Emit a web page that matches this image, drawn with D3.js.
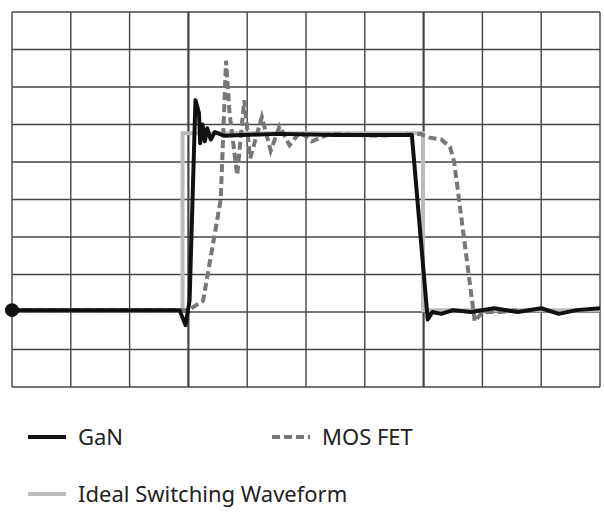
<!DOCTYPE html>
<html><head><meta charset="utf-8">
<script src="https://cdn.jsdelivr.net/npm/d3@7"></script>
<style>body{margin:0;background:#fff}</style>
</head><body><svg id="c"></svg>
<script>
// waveform points, [division, level] (0..10 grid units)
const ideal = [[0,2.05],[2.9,2.05],[2.9,6.77],[6.99,6.77],[6.99,2.05],[10,2.05]];
const gan = [[0,2.05],[2.85,2.05],[2.95,1.65],[3.02,2.3],[3.12,7.65],[3.18,7.3],[3.2,6.5],[3.24,7.0],[3.28,6.55],[3.32,6.9],[3.38,6.6],[3.45,6.8],[3.6,6.7],[4.5,6.75],[5.5,6.72],[6.8,6.72],[7.07,1.8],[7.15,2.0],[7.3,1.95],[7.5,2.05],[7.8,2.0],[8.2,2.1],[8.6,2.0],[9.0,2.1],[9.3,1.95],[9.6,2.05],[10,2.1]];
const mos = [[0,2.05],[3.0,2.05],[3.25,2.3],[3.55,5.0],[3.64,8.7],[3.7,7.3],[3.83,5.65],[3.95,7.65],[4.05,6.1],[4.25,7.2],[4.4,6.3],[4.55,6.95],[4.72,6.45],[4.9,6.8],[5.1,6.55],[5.4,6.75],[6.2,6.7],[6.94,6.75],[7.1,6.65],[7.3,6.6],[7.45,6.4],[7.52,6.0],[7.87,1.75],[8.0,2.0],[8.3,2.0],[8.6,2.05]];

const W = 604, H = 515;
const svg = d3.select('#c').attr('width', W).attr('height', H);
const x = d3.scaleLinear().domain([0,10]).range([12,600]);
const y = d3.scaleLinear().domain([0,10]).range([387,12]);

const grid = svg.append('g').attr('stroke','#444');
d3.range(0,11).forEach(i=>{
  grid.append('line').attr('x1',x(i)).attr('x2',x(i)).attr('y1',y(0)).attr('y2',y(10))
    .attr('stroke-width', i===3||i===7 ? 2.2 : 1.4);
  grid.append('line').attr('x1',x(0)).attr('x2',x(10)).attr('y1',y(i)).attr('y2',y(i)).attr('stroke-width',1.4);
});

const line = d3.line().x(d=>x(d[0])).y(d=>y(d[1]));
svg.append('path').attr('d',line(ideal)).attr('fill','none').attr('stroke','#bbb').attr('stroke-width',4);
svg.append('path').attr('d',line(mos)).attr('fill','none').attr('stroke','#777').attr('stroke-width',4).attr('stroke-dasharray','8,4');
svg.append('path').attr('d',line(gan)).attr('fill','none').attr('stroke','#111').attr('stroke-width',4).attr('stroke-linejoin','round');
svg.append('circle').attr('cx',x(0)).attr('cy',y(2.05)).attr('r',7).attr('fill','#111');

const legend = [
  {label:'GaN', x:28, y:437, color:'#111', dash:null},
  {label:'MOS FET', x:272, y:437, color:'#777', dash:'8,4'},
  {label:'Ideal Switching Waveform', x:28, y:494, color:'#bbb', dash:null}
];
legend.forEach(l=>{
  svg.append('line').attr('x1',l.x).attr('x2',l.x+38).attr('y1',l.y).attr('y2',l.y)
    .attr('stroke',l.color).attr('stroke-width',4).attr('stroke-dasharray',l.dash);
  svg.append('text').attr('x',l.x+50).attr('y',l.y+8).text(l.label)
    .attr('font-family','Noto Sans, Open Sans, sans-serif').attr('font-size',22).attr('fill','#222');
});
</script></body></html>
